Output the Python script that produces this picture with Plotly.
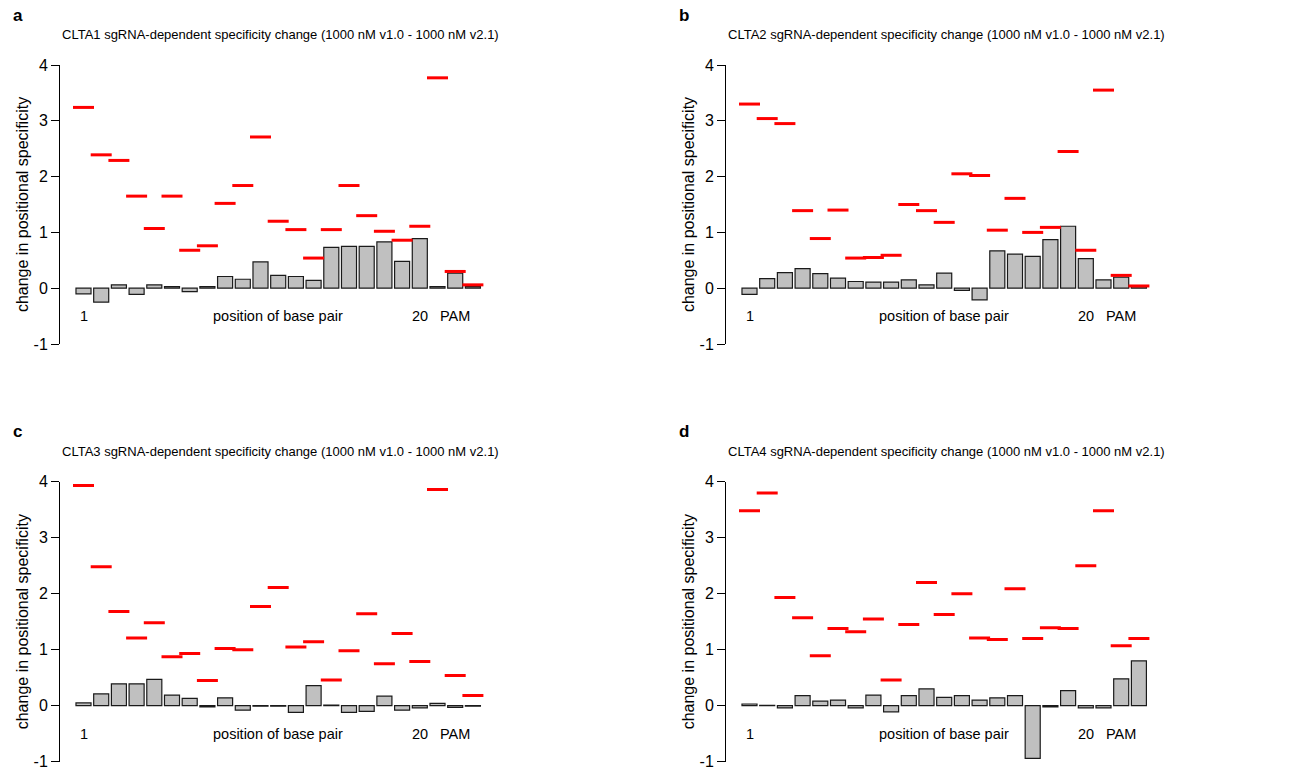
import plotly.graph_objects as go

positions = list(range(1, 24))

titles = [
    "CLTA1 sgRNA-dependent specificity change (1000 nM v1.0 - 1000 nM v2.1)",
    "CLTA2 sgRNA-dependent specificity change (1000 nM v1.0 - 1000 nM v2.1)",
    "CLTA3 sgRNA-dependent specificity change (1000 nM v1.0 - 1000 nM v2.1)",
    "CLTA4 sgRNA-dependent specificity change (1000 nM v1.0 - 1000 nM v2.1)",
]
panel_letters = ["a", "b", "c", "d"]

clta1_change = [-0.10, -0.25, 0.06, -0.11, 0.06, 0.03, -0.06, 0.03, 0.21, 0.16, 0.47, 0.23,
                0.21, 0.14, 0.73, 0.75, 0.75, 0.83, 0.48, 0.89, 0.03, 0.27, 0.03]
clta1_max = [3.24, 2.39, 2.29, 1.65, 1.07, 1.65, 0.68, 0.76, 1.52, 1.84, 2.71, 1.20,
             1.05, 0.54, 1.05, 1.84, 1.30, 1.02, 0.86, 1.11, 3.77, 0.30, 0.06]

clta2_change = [-0.11, 0.17, 0.28, 0.35, 0.26, 0.18, 0.12, 0.11, 0.11, 0.15, 0.06, 0.27,
                -0.04, -0.21, 0.67, 0.61, 0.57, 0.87, 1.11, 0.53, 0.15, 0.20, 0.03]
clta2_max = [3.30, 3.04, 2.95, 1.39, 0.89, 1.40, 0.54, 0.55, 0.59, 1.50, 1.39, 1.18,
             2.05, 2.02, 1.04, 1.61, 1.00, 1.09, 2.45, 0.68, 3.55, 0.23, 0.04]

clta3_change = [0.05, 0.21, 0.39, 0.39, 0.47, 0.19, 0.13, -0.02, 0.14, -0.08, -0.01, -0.01,
                -0.12, 0.36, 0.01, -0.12, -0.10, 0.17, -0.08, -0.04, 0.04, -0.03, -0.01]
clta3_max = [3.93, 2.48, 1.68, 1.21, 1.48, 0.875, 0.93, 0.45, 1.02, 1.00, 1.77, 2.11,
             1.05, 1.14, 0.46, 0.98, 1.64, 0.75, 1.29, 0.79, 3.86, 0.54, 0.18]

clta4_change = [0.03, 0.005, -0.04, 0.18, 0.08, 0.10, -0.04, 0.19, -0.11, 0.18, 0.30, 0.15,
                0.18, 0.10, 0.14, 0.18, -0.94, -0.02, 0.27, -0.04, -0.04, 0.48, 0.80]
clta4_max = [3.48, 3.80, 1.93, 1.57, 0.89, 1.38, 1.32, 1.55, 0.46, 1.45, 2.20, 1.63,
             2.00, 1.21, 1.18, 2.09, 1.20, 1.39, 1.38, 2.50, 3.48, 1.07, 1.20]

changes = [clta1_change, clta2_change, clta3_change, clta4_change]
maxima = [clta1_max, clta2_max, clta3_max, clta4_max]

y_ticks = [-1, 0, 1, 2, 3, 4]
y_ticktext = ["-1", "0", "1", "2", "3", "4"]
x_labels = [(1, "1"), (12, "position of base pair"), (20, "20"), (22, "PAM")]

W, H = 1293, 771
FONT = "Liberation Sans, Arial, sans-serif"

# pixel layout of each panel: (axis x, y of value 4, y of value -1)
panels_px = [(60, 65, 344), (726, 65, 344), (60, 481.7, 761.7), (726, 481.7, 761.7)]
plot_w = 432
x_range = [1 - 23.5 / 17.7, 1 - 23.5 / 17.7 + plot_w / 17.7]

fig = go.Figure()
layout = dict(
    width=W, height=H, margin=dict(l=0, r=0, t=0, b=0, autoexpand=False),
    paper_bgcolor="white", plot_bgcolor="white",
    showlegend=False, font=dict(family=FONT, size=14, color="black"),
)
annotations = []
for i in range(4):
    ax_x, y4, ym1 = panels_px[i]
    xa = "x" if i == 0 else f"x{i+1}"
    ya = "y" if i == 0 else f"y{i+1}"
    xkey = "xaxis" if i == 0 else f"xaxis{i+1}"
    ykey = "yaxis" if i == 0 else f"yaxis{i+1}"
    fig.add_trace(go.Bar(
        x=positions, y=changes[i], xaxis=xa, yaxis=ya,
        marker=dict(color="#c0c0c0", line=dict(color="#1a1a1a", width=1.2)),
        width=0.85,
    ))
    fig.add_trace(go.Scatter(
        x=positions, y=maxima[i], xaxis=xa, yaxis=ya, mode="markers",
        marker=dict(symbol="line-ew", size=15, line=dict(color="#ff0000", width=3)),
    ))
    layout[xkey] = dict(
        domain=[ax_x / W, (ax_x + plot_w) / W], range=x_range,
        showline=False, showgrid=False, zeroline=False, showticklabels=False,
        anchor=ya, automargin=False,
    )
    layout[ykey] = dict(
        domain=[(H - ym1) / H, (H - y4) / H], range=[-1, 4],
        tickvals=y_ticks, ticktext=y_ticktext,
        ticks="outside", ticklen=8, tickwidth=1, tickcolor="black",
        showline=True, linecolor="black", linewidth=1,
        showgrid=False, zeroline=False, anchor=xa, automargin=False,
        tickfont=dict(size=16, family=FONT),
        title=dict(text="change in positional specificity", font=dict(size=16, family=FONT), standoff=0),
    )
    for xv, txt in x_labels:
        annotations.append(dict(x=xv, y=-0.5, xref=xa, yref=ya, text=txt,
                                showarrow=False, font=dict(size=14.5, family=FONT),
                                xanchor="center", yanchor="middle"))
    annotations.append(dict(x=(ax_x + plot_w / 2 + 4) / W, y=(H - (y4 - 30)) / H,
                            xref="paper", yref="paper", text=titles[i], showarrow=False,
                            font=dict(size=13, family=FONT), xanchor="center", yanchor="middle"))
    annotations.append(dict(x=(ax_x - 49) / W, y=(H - (y4 - 50)) / H,
                            xref="paper", yref="paper", text="<b>" + panel_letters[i] + "</b>",
                            showarrow=False, font=dict(size=17, family=FONT),
                            xanchor="left", yanchor="middle"))

layout["annotations"] = annotations
fig.update_layout(**layout)
fig.write_html("out.html")
